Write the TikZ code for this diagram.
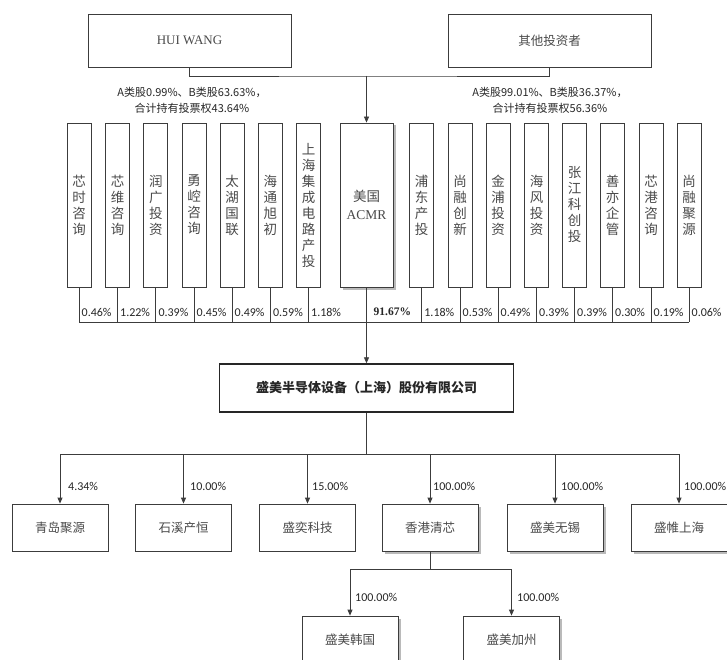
\documentclass[tikz,border=0pt]{standalone}
\usepackage{fontspec}
\setmainfont{Liberation Serif}
\newfontfamily\cjk{Noto Sans CJK SC}
\newfontfamily\pctf{Carlito}
\usetikzlibrary{arrows.meta,shadows}
\definecolor{ln}{HTML}{3C3C3C}
\definecolor{tx}{HTML}{4A4A4A}
\tikzset{
 conn/.style={draw=ln, line width=0.8pt},
 arr/.style={conn, -{Triangle[length=6pt,width=5pt]}},
 boxbase/.style={draw=ln, line width=0.8pt, fill=white, inner sep=0pt, text=tx},
 vbox/.style={boxbase, minimum width=24pt, minimum height=164pt, font=\cjk\fontsize{13.5}{16}\selectfont, align=center, text width=14pt},
 topbox/.style={boxbase, minimum width=203pt, minimum height=53pt},
 subbox/.style={boxbase, minimum width=96pt, minimum height=47pt, font=\cjk\fontsize{12.5}{15}\selectfont},
 shad/.style={drop shadow={shadow xshift=2.5pt, shadow yshift=-2.5pt, opacity=0.45, fill=black!60}},
 pct/.style={font=\pctf\fontsize{12}{14}\selectfont, text=black!85, inner sep=1pt, anchor=west},
 lab/.style={font=\cjk\fontsize{11}{16}\selectfont, align=center, text=black!85, inner sep=0pt}
}
\begin{document}
\begin{tikzpicture}[x=1pt,y=-1pt]
\useasboundingbox (0,0) rectangle (727,660);
\fill[white] (0,0) rectangle (727,660);
\clip (0,0) rectangle (727,660);

% top owners
\node[topbox, font=\fontsize{13}{15}\selectfont] (hui) at (189.5,40.5) {HUI WANG};
\node[topbox, font=\cjk\fontsize{12.5}{15}\selectfont] (oth) at (549.5,40.5) {其他投资者};
\coordinate (j) at (366.5,76);
\draw[conn] (hui.south) |- (j) -| (oth.south);

\node[lab] (la) at (192,100) {A类股0.99\%、B类股63.63\%，\\合计持有投票权43.64\%};
\node[lab] (lb) at (550,100) {A类股99.01\%、B类股36.37\%，\\合计持有投票权56.36\%};

% ACMR
\node[boxbase, shad, minimum width=53pt, minimum height=164pt, align=center,
      font=\fontsize{13.5}{18}\selectfont] (acmr) at (366.5,205) {{\cjk 美国}\\ACMR};
\draw[arr] (j) -- (acmr.north);

% vertical shareholder boxes
\node[vbox] (v1) at (79,205) {芯\\时\\咨\\询};
\node[vbox] (v2) at (117.5,205) {芯\\维\\咨\\询};
\node[vbox] (v3) at (155.8,205) {润\\广\\投\\资};
\node[vbox] (v4) at (194,205) {勇\\崆\\咨\\询};
\node[vbox] (v5) at (232,205) {太\\湖\\国\\联};
\node[vbox] (v6) at (270.3,205) {海\\通\\旭\\初};
\node[vbox] (v7) at (308.5,205) {上\\海\\集\\成\\电\\路\\产\\投};
\node[vbox] (v8) at (421.7,205) {浦\\东\\产\\投};
\node[vbox] (v9) at (460,205) {尚\\融\\创\\新};
\node[vbox] (v10) at (498,205) {金\\浦\\投\\资};
\node[vbox] (v11) at (536.5,205) {海\\风\\投\\资};
\node[vbox] (v12) at (574.5,205) {张\\江\\科\\创\\投};
\node[vbox] (v13) at (612.5,205) {善\\亦\\企\\管};
\node[vbox] (v14) at (651,205) {芯\\港\\咨\\询};
\node[vbox] (v15) at (689,205) {尚\\融\\聚\\源};

\coordinate (tbl) at (0,322);
\coordinate (lbl) at (0,312);
\foreach \v in {v1,v2,v3,v4,v5,v6,v7,v8,v9,v10,v11,v12,v13,v14,v15}{
  \draw[conn] (\v.south) -- (\v.south |- tbl);
}
\draw[conn] (v1.south |- tbl) -- (v15.south |- tbl);

\node[pct] (p1) at ([xshift=1.5pt]v1.south |- lbl) {0.46\%};
\node[pct] (p2) at ([xshift=1.5pt]v2.south |- lbl) {1.22\%};
\node[pct] (p3) at ([xshift=1.5pt]v3.south |- lbl) {0.39\%};
\node[pct] (p4) at ([xshift=1.5pt]v4.south |- lbl) {0.45\%};
\node[pct] (p5) at ([xshift=1.5pt]v5.south |- lbl) {0.49\%};
\node[pct] (p6) at ([xshift=1.5pt]v6.south |- lbl) {0.59\%};
\node[pct] (p7) at ([xshift=1.5pt]v7.south |- lbl) {1.18\%};
\node[pct, font=\bfseries\fontsize{11.5}{14}\selectfont] (p91) at ([xshift=6pt]acmr.south |- lbl) {91.67\%};
\node[pct] (p8) at ([xshift=1.5pt]v8.south |- lbl) {1.18\%};
\node[pct] (p9) at ([xshift=1.5pt]v9.south |- lbl) {0.53\%};
\node[pct] (p10) at ([xshift=1.5pt]v10.south |- lbl) {0.49\%};
\node[pct] (p11) at ([xshift=1.5pt]v11.south |- lbl) {0.39\%};
\node[pct] (p12) at ([xshift=1.5pt]v12.south |- lbl) {0.39\%};
\node[pct] (p13) at ([xshift=1.5pt]v13.south |- lbl) {0.30\%};
\node[pct] (p14) at ([xshift=1.5pt]v14.south |- lbl) {0.19\%};
\node[pct] (p15) at ([xshift=1.5pt]v15.south |- lbl) {0.06\%};

% main company
\node[boxbase, draw=black!85, line width=1.4pt, minimum width=294pt, minimum height=48pt,
      font=\cjk\bfseries\fontsize{13}{15}\selectfont, text=black!85] (main) at (366.5,388)
      {盛美半导体设备（上海）股份有限公司};
\draw[arr] (acmr.south) -- (main.north);

% subsidiaries
\node[subbox] (s1) at (60,527.5) {青岛聚源};
\node[subbox] (s2) at (183.5,527.5) {石溪产恒};
\node[subbox] (s3) at (307.5,527.5) {盛奕科技};
\node[subbox, shad] (s4) at (430,527.5) {香港清芯};
\node[subbox, shad] (s5) at (555,527.5) {盛美无锡};
\node[subbox, shad] (s6) at (679,527.5) {盛帷上海};

\coordinate (bus) at (366.5,454);
\draw[conn] (main.south) -- (bus);
\draw[conn] (s1.north |- bus) -- (s6.north |- bus);
\foreach \s in {s1,s2,s3,s4,s5,s6}{
  \draw[arr] (\s.north |- bus) -- (\s.north);
}
\node[pct] (q1) at (67,486) {4.34\%};
\node[pct] (q2) at (189,486) {10.00\%};
\node[pct] (q3) at (311,486) {15.00\%};
\node[pct] (q4) at (432,486) {100.00\%};
\node[pct] (q5) at (560,486) {100.00\%};
\node[pct] (q6) at (683,486) {100.00\%};

% second level
\node[subbox, shad] (k1) at (350,639.5) {盛美韩国};
\node[subbox, shad] (k2) at (511.5,639.5) {盛美加州};
\coordinate (bus2) at (430,569);
\draw[conn] (s4.south) -- (bus2);
\draw[conn] (k1.north |- bus2) -- (k2.north |- bus2);
\draw[arr] (k1.north |- bus2) -- (k1.north);
\draw[arr] (k2.north |- bus2) -- (k2.north);
\node[pct] (r1) at (354,597) {100.00\%};
\node[pct] (r2) at (516,597) {100.00\%};
\end{tikzpicture}
\end{document}
